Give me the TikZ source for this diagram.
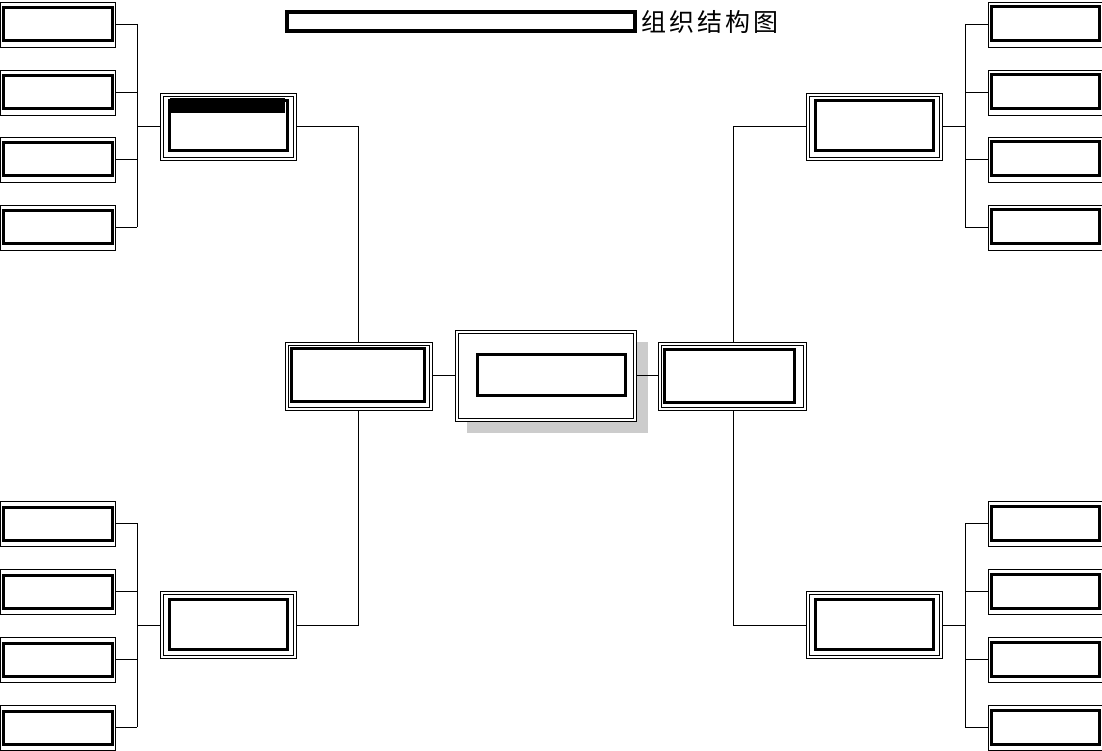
\documentclass[tikz,border=0pt]{standalone}
\usepackage{fontspec}
\newfontfamily\cjk[LetterSpace=12]{Noto Sans CJK SC}
\begin{document}
\begin{tikzpicture}[x=1pt, y=-1pt]
\tikzset{frame/.style={draw, line width=0.6pt, fill=white},
         thick box/.style={draw, line width=3pt},
         link/.style={draw, line width=0.6pt}}
\useasboundingbox (0,0) rectangle (1102,751);
% title
\draw[line width=4pt] (287,12) rectangle (635,31);
\node[anchor=west, inner sep=0pt, font=\cjk\fontsize{25}{25}\selectfont] (title) at (641,22) {组织结构图};
% centre box with shadow
\fill[gray!40] (467,342) rectangle (648,433);
\draw[frame] (455,330) rectangle (636,421);
\draw[frame] (458,333) rectangle (633,418);
\draw[thick box] (477,354) rectangle (625,395);
% middle boxes
\draw[frame] (285,342) rectangle (432,410); \draw[frame] (288,345) rectangle (429,407);
\draw[thick box] (291,348) rectangle (424,401);
\draw[frame] (658,342) rectangle (806,410); \draw[frame] (661,345) rectangle (803,407);
\draw[thick box] (664,349) rectangle (794,402);
\draw[link] (432,375) -- (455,375) (636,375) -- (658,375);
\draw[link] (296,126) -- (358,126) -- (358,342) (358,410) -- (358,625) -- (296,625);
\draw[link] (806,126) -- (733,126) -- (733,342) (733,410) -- (733,625) -- (806,625);
% group boxes
\foreach \x/\y in {160/93, 160/591, 806/93, 806/591}{
  \draw[frame] (\x,\y) rectangle ++(136,67);
  \draw[frame] (\x+3,\y+3) rectangle ++(130,61);
  \draw[thick box] (\x+9,\y+8) rectangle ++(118,50);
}
\fill (170,98) rectangle (285,113); % redacted header
% leaf boxes and brackets
\foreach \y in {2,70,137,205,501,569,637,705}{
  \draw[frame] (0,\y) rectangle ++(115,45);
  \draw[thick box] (3,\y+6) rectangle ++(109,33);
  \draw[link] (115,\y+22) -- (137,\y+22);
  \draw[frame] (988,\y) rectangle ++(114,45);
  \draw[thick box] (991,\y+5) rectangle ++(108,34);
  \draw[link] (965,\y+22) -- (988,\y+22);
}
\draw[link] (137,24) -- (137,227) (137,126) -- (160,126);
\draw[link] (137,523) -- (137,727) (137,625) -- (160,625);
\draw[link] (965,24) -- (965,227) (965,126) -- (942,126);
\draw[link] (965,523) -- (965,727) (965,625) -- (942,625);
\end{tikzpicture}
\end{document}
